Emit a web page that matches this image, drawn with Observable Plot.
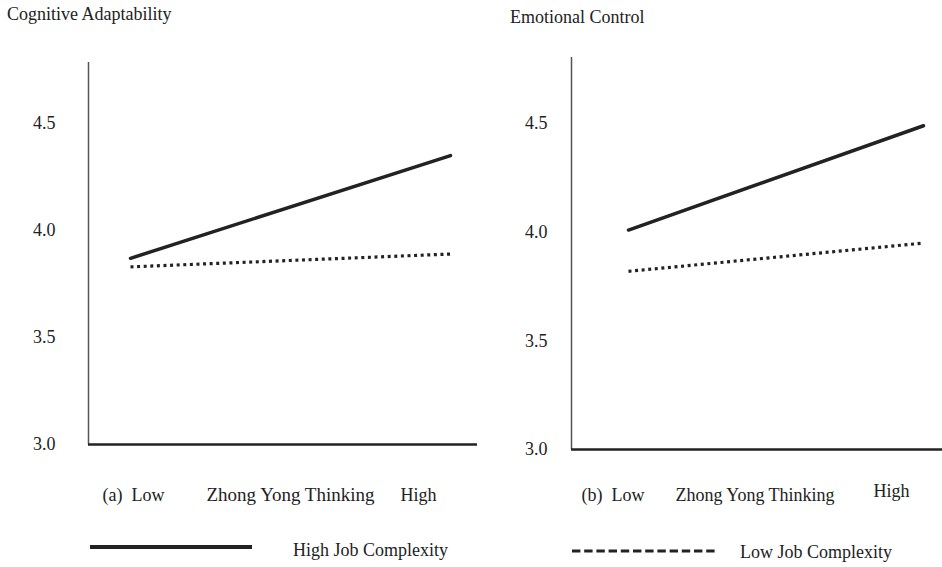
<!DOCTYPE html>
<html><head><meta charset="utf-8">
<script src="https://cdn.jsdelivr.net/npm/d3@7"></script>
<script src="https://cdn.jsdelivr.net/npm/@observablehq/plot@0.6"></script>
<style>
body{margin:0;background:#fff;}
#chart{position:relative;width:942px;height:567px;font-family:"Liberation Serif","Times New Roman",serif;color:#222;overflow:hidden;}
.abs{position:absolute;white-space:nowrap;font-size:18px;line-height:1;}
.panel{position:absolute;top:0;}
</style></head><body><div id="chart"></div>
<script>
// ---- data ----
const levels = ["Low", "High"];          // Zhong Yong Thinking levels
const levelX = [0, 1];
const panelTitles = ["Cognitive Adaptability", "Emotional Control"];
const panelTags = ["(a)", "(b)"];
const xTitle = "Zhong Yong Thinking";
const highCA = [3.87, 4.35];
const lowCA  = [3.83, 3.89];
const highEC = [4.01, 4.49];
const lowEC  = [3.82, 3.95];
const yTicks = [3.0, 3.5, 4.0, 4.5];
const seriesNames = ["High Job Complexity", "Low Job Complexity"];

const chart = document.getElementById("chart");
const INK = "#222";

function rows(vals, s){ return levelX.map((x,i)=>({x, y: vals[i], s})); }

const panels = [
  {left:0, width:480, mL:88, mR:3, mT:62, mB:70, xd:[-42/320, 347/320], yd:[3, 4.785],
   title:panelTitles[0], tag:panelTags[0], high:highCA, low:lowCA, tickPad:33,
   lowDx:-28, midDx:0, highDx:-50, labDy:[56,56,56], midSize:19},
  {left:480, width:462, mL:91, mR:0, mT:57, mB:65, xd:[-57/295, 314/295], yd:[3, 4.804],
   title:panelTitles[1], tag:panelTags[1], high:highEC, low:lowEC, tickPad:24,
   lowDx:-47, midDx:-21, highDx:-50, labDy:[51,51,47], midSize:18}
];

panels.forEach(p => {
  const data = [...rows(p.high, seriesNames[0]), ...rows(p.low, seriesNames[1])];
  const svg = Plot.plot({
    width: p.width, height: 514,
    marginLeft: p.mL, marginRight: p.mR, marginTop: p.mT, marginBottom: p.mB,
    style: {fontFamily: '"Liberation Serif","Times New Roman",serif', fontSize: "18px", color: INK, background: "transparent", overflow: "visible"},
    x: {domain: p.xd, axis: null},
    y: {domain: p.yd, axis: null},
    marks: [
      Plot.axisY({ticks: yTicks, tickFormat: d3.format(".1f"), tickSize: 0, tickPadding: p.tickPad, fontSize: 18, label: null}),
      Plot.ruleX([p.xd[0]], {stroke: "#555", strokeWidth: 1.5}),
      Plot.ruleY([p.yd[0]], {stroke: INK, strokeWidth: 2.5}),
      Plot.line(data.filter(d=>d.s===seriesNames[0]), {x:"x", y:"y", stroke: INK, strokeWidth: 3.5}),
      Plot.line(data.filter(d=>d.s===seriesNames[1]), {x:"x", y:"y", stroke: INK, strokeWidth: 3.2, strokeDasharray: "3,3.6", strokeLinecap: "butt"}),
      Plot.text([`${p.tag}  ${levels[0]}`], {x: [levelX[0]], frameAnchor: "bottom", textAnchor: "start", dx: p.lowDx, dy: p.labDy[0], fontSize: 18, fill: INK}),
      Plot.text([xTitle], {x: [(levelX[0]+levelX[1])/2], frameAnchor: "bottom", textAnchor: "middle", dx: p.midDx, dy: p.labDy[1], fontSize: p.midSize, fill: INK}),
      Plot.text([levels[1]], {x: [levelX[1]], frameAnchor: "bottom", textAnchor: "start", dx: p.highDx, dy: p.labDy[2], fontSize: 18, fill: INK})
    ]
  });
  svg.classList.add("panel");
  svg.style.left = p.left + "px";
  chart.appendChild(svg);
});

function addText(txt, left, top){
  const d = document.createElement("div");
  d.className = "abs"; d.textContent = txt;
  d.style.left = left + "px"; d.style.top = top + "px";
  chart.appendChild(d);
}
addText(panelTitles[0], 7, 5);
addText(panelTitles[1], 510, 8);
addText(seriesNames[0], 293, 541);
addText(seriesNames[1], 740, 543);

// legend swatches
const lg = d3.select(chart).append("svg")
  .attr("width", 942).attr("height", 567)
  .style("position","absolute").style("left","0").style("top","0").style("pointer-events","none");
lg.append("line").attr("x1",90).attr("x2",252).attr("y1",547).attr("y2",547)
  .attr("stroke",INK).attr("stroke-width",4);
lg.append("line").attr("x1",572).attr("x2",715).attr("y1",551).attr("y2",551)
  .attr("stroke",INK).attr("stroke-width",3).attr("stroke-dasharray","8.4,3.8");
</script>
</body></html>
